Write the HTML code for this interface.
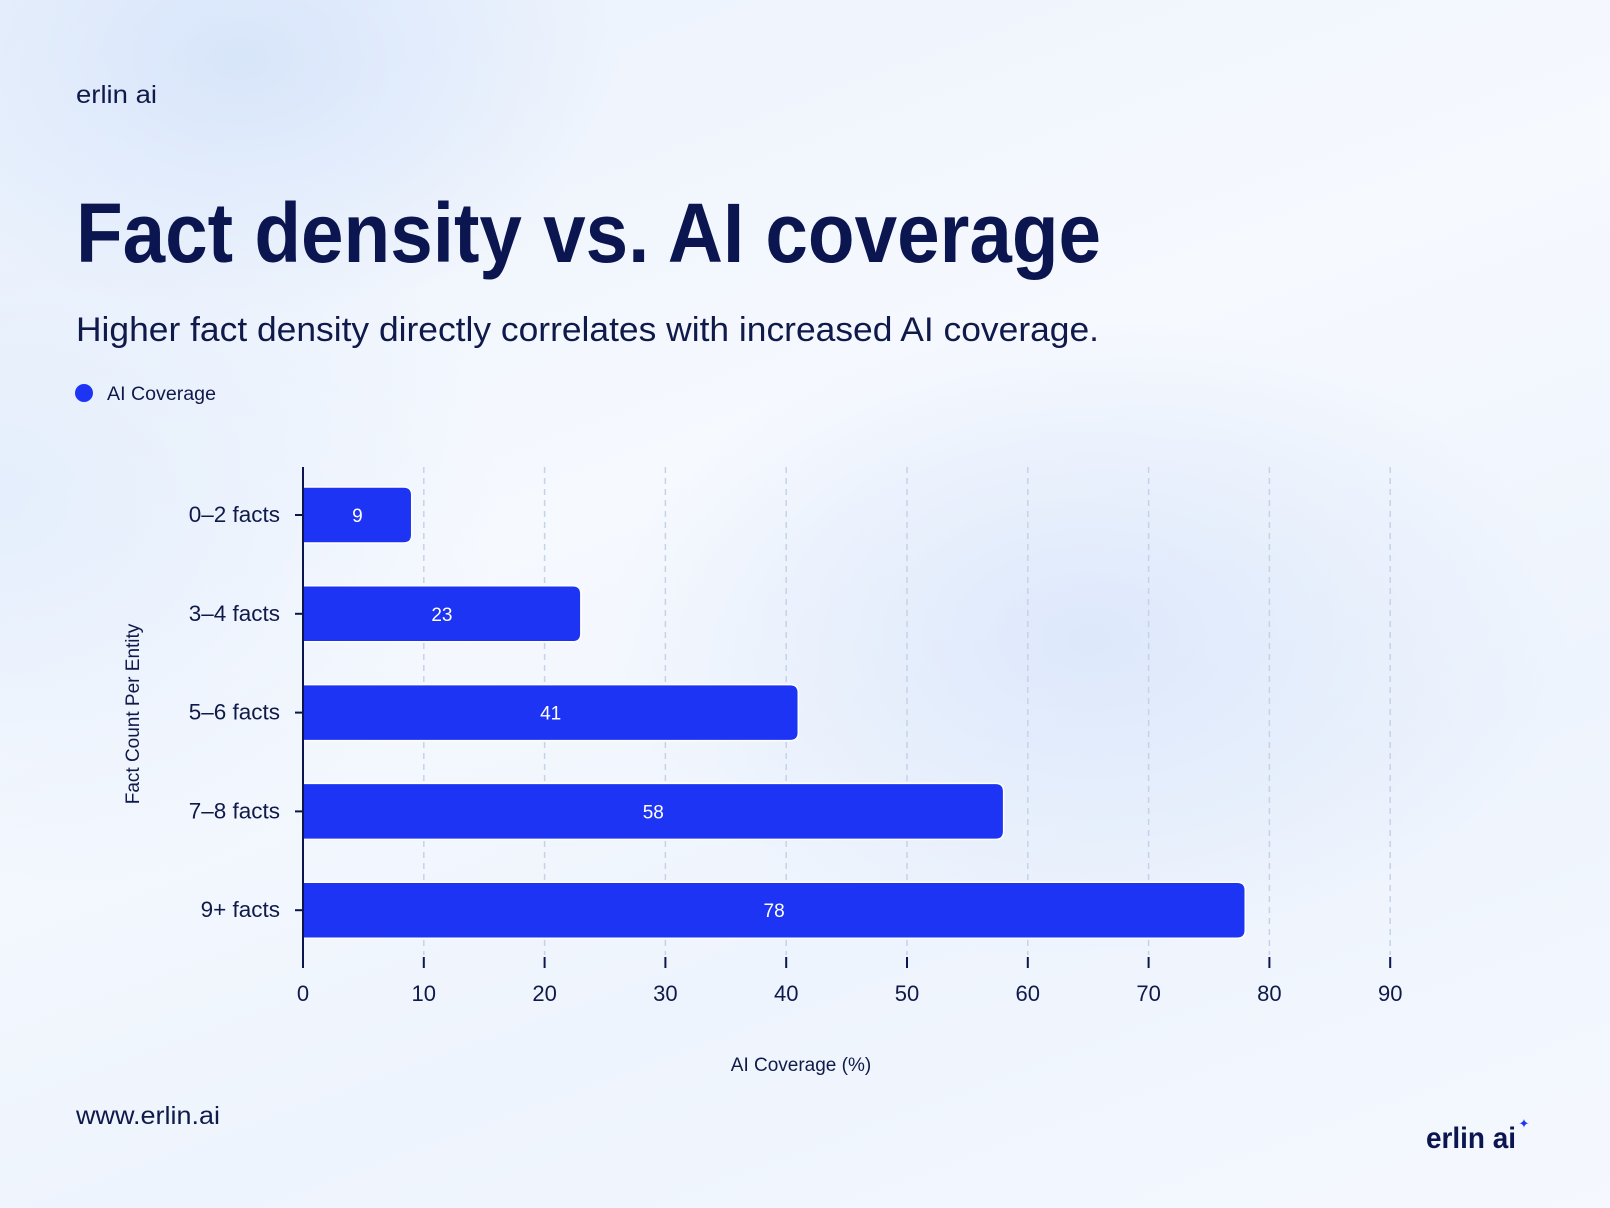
<!DOCTYPE html>
<html><head><meta charset="utf-8">
<style>
html,body{margin:0;padding:0;}
body{width:1610px;height:1208px;overflow:hidden;font-family:"Liberation Sans",sans-serif;
background:
radial-gradient(ellipse 480px 320px at 1090px 640px, rgba(212,226,250,0.7), rgba(212,226,250,0) 100%),
radial-gradient(ellipse 380px 260px at 240px 60px, rgba(212,227,250,0.85), rgba(212,227,250,0) 100%),
radial-gradient(ellipse 500px 400px at 0px 500px, rgba(225,236,252,0.8), rgba(225,236,252,0) 100%),
linear-gradient(160deg,#eaf1fc 0%,#f6f9fe 40%,#eef4fd 70%,#f5f8fe 100%);}
svg{position:absolute;left:0;top:0;}
</style></head>
<body>
<svg id="chart" width="1610" height="1208" xmlns="http://www.w3.org/2000/svg">
<text x="76" y="103" font-size="25" fill="#0f1a4a" textLength="81" lengthAdjust="spacingAndGlyphs">erlin ai</text>
<text x="76" y="262" font-size="84" font-weight="bold" fill="#0b1650" textLength="1025" lengthAdjust="spacingAndGlyphs">Fact density vs. AI coverage</text>
<text x="76" y="341" font-size="34" fill="#0f1a4a" textLength="1023" lengthAdjust="spacingAndGlyphs">Higher fact density directly correlates with increased AI coverage.</text>
<circle cx="84" cy="393" r="9" fill="#1e34f5"/>
<text x="107" y="400" font-size="19" fill="#0f1a4a" textLength="109" lengthAdjust="spacingAndGlyphs">AI Coverage</text>
<g id="plot"></g>
<text x="76" y="1124" font-size="25" fill="#0f1a4a" textLength="144" lengthAdjust="spacingAndGlyphs">www.erlin.ai</text>
<text x="1426" y="1148" font-size="30" font-weight="bold" fill="#0b1650" textLength="90" lengthAdjust="spacingAndGlyphs">erlin ai</text>
<text x="1524" y="1128" font-size="13" fill="#1e34f5" text-anchor="middle">✦</text>
</svg>
<script>
const categories = ["0–2 facts","3–4 facts","5–6 facts","7–8 facts","9+ facts"];
const values = [9, 23, 41, 58, 78];
const xTicks = [0,10,20,30,40,50,60,70,80,90];

const NS="http://www.w3.org/2000/svg";
const g=document.getElementById('plot');
const x0=303, pxPerUnit=12.08, yTop=467, yBot=967, firstCenter=515, step=98.8, barH=56;
const xScale=v=>x0+v*pxPerUnit;
const yScale=i=>firstCenter+i*step;
function mk(tag,attrs){const e=document.createElementNS(NS,tag);for(const k in attrs)e.setAttribute(k,attrs[k]);g.appendChild(e);return e;}

xTicks.forEach(t=>{
  const x=xScale(t);
  if(t>0){
    const gl=mk('line',{x1:x,y1:yTop,x2:x,y2:955,stroke:'#c7d2e6','stroke-width':1.5,'stroke-dasharray':'6 5'});
    
    
  }
  const tk=mk('line',{x1:x,y1:957,x2:x,y2:968,stroke:'#0b1650','stroke-width':2});
  
  
  const tl=mk('text',{x:x,y:1001,'font-size':22,fill:'#0f1a4a','text-anchor':'middle'});
  tl.textContent=t;
  
  
});

categories.forEach((c,i)=>{
  const cy=yScale(i), w=xScale(values[i])-x0, r=8;
  const p=mk('path',{d:`M${x0},${cy-barH/2} h${w-r} q${r},0 ${r},${r} v${barH-2*r} q0,${r} -${r},${r} h-${w-r} z`,fill:'#1e34f5',stroke:'#ffffff','stroke-width':1.5});
  
  
  const vl=mk('text',{x:x0+w/2,y:cy+7,'font-size':19,fill:'#ffffff','text-anchor':'middle'});
  vl.textContent=values[i];
  
  
  const tk=mk('line',{x1:295,y1:cy,x2:303,y2:cy,stroke:'#0b1650','stroke-width':2});
  
  
  const cl=mk('text',{x:280,y:cy+7,'font-size':22.5,fill:'#0f1a4a','text-anchor':'end'});
  cl.textContent=c;
  
  
});

const ax=mk('line',{x1:x0,y1:yTop,x2:x0,y2:yBot,stroke:'#0b1650','stroke-width':2});



const xt=mk('text',{x:801,y:1071,'font-size':19,fill:'#0f1a4a','text-anchor':'middle'});
xt.textContent='AI Coverage (%)';


const yt=mk('text',{x:0,y:0,'font-size':19,fill:'#0f1a4a','text-anchor':'middle',transform:'translate(139,714) rotate(-90)'});
yt.textContent='Fact Count Per Entity';


</script>
</body></html>
